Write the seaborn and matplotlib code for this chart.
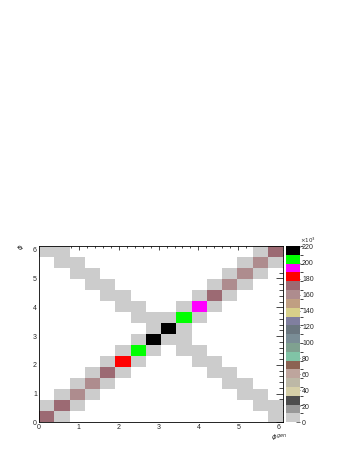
import numpy as np
import pandas as pd
import matplotlib
matplotlib.use('Agg')
import matplotlib.pyplot as plt
from matplotlib.colors import ListedColormap, BoundaryNorm
import seaborn as sns

#DATA (counts in units of 10^3)
####################################################################################################

n_bins = 16
phi_max = 6.13

#diagonal peak cells (i, i)
diag_vals = [170, 169, 160, 159, 171, 182, 204, 215, 216, 203, 193, 169, 160, 159, 158, 170]
#cells just above / below the diagonal in each column
above_vals = [6, 6, 5, 5, 6, 6, 7, 7, 7, 7, 6, 6, 5, 5, 5, 0]
below_vals = [0, 5, 5, 5, 6, 6, 7, 7, 7, 7, 6, 6, 5, 5, 5, 6]
#anti-diagonal band, two cells per column (rows 15-j and 16-j)
anti_low_vals = [4, 4, 4, 4, 4, 4, 4, 4, 4, 4, 4, 4, 4, 4, 4, 4]
anti_high_vals = [0, 4, 4, 4, 4, 4, 4, 4, 4, 4, 4, 4, 4, 4, 4, 4]

#palette levels, bottom to top
palette = ['#cccccc', '#999999', '#4d4d4d', '#d6cfa8', '#bdb8a6', '#bea59d', '#8c6353',
           '#80c4a6', '#7fa190', '#7a8d96', '#6b7780', '#807f9f', '#d8d08a', '#c09f82',
           '#ae8c8e', '#9c6a73', '#ff0000', '#ff00ff', '#00ff00', '#000000']
z_max = 221
cbar_ticks = [0, 20, 40, 60, 80, 100, 120, 140, 160, 180, 200, 220]

#BUILD MATRIX
####################################################################################################

mat = np.zeros((n_bins, n_bins))
for j in range(n_bins):
    if 15 - j >= 0:
        mat[15 - j, j] = anti_low_vals[j]
    if 16 - j <= 15:
        mat[16 - j, j] = anti_high_vals[j]
    if j + 1 < n_bins and above_vals[j] > 0:
        mat[j + 1, j] = above_vals[j]
    if j - 1 >= 0 and below_vals[j] > 0:
        mat[j - 1, j] = below_vals[j]
    mat[j, j] = diag_vals[j]

df = pd.DataFrame(mat * 1000)
mask = df == 0

#PLOT
####################################################################################################

sns.set_style('white')
plt.rcParams['font.family'] = ['Liberation Sans', 'DejaVu Sans']

fig = plt.figure(figsize=(3.54, 4.58), dpi=100)
ax = fig.add_axes([39/354, 1 - 422.3/458, (283.3 - 39)/354, (422.3 - 246)/458])
cax = fig.add_axes([285.7/354, 1 - 422.3/458, 14.3/354, (422.3 - 246)/458])

cmap = ListedColormap(palette)
norm = BoundaryNorm(np.linspace(0, z_max * 1000, len(palette) + 1), len(palette))

sns.heatmap(df, mask=mask, cmap=cmap, norm=norm, ax=ax, cbar_ax=cax,
            cbar_kws={'ticks': [t * 1000 for t in cbar_ticks]},
            xticklabels=False, yticklabels=False)
ax.invert_yaxis()
for s in ax.spines.values():
    s.set_visible(True)
    s.set_color('black')
    s.set_linewidth(0.6)

bw = phi_max / n_bins
ax.set_xticks(np.arange(0, 7) / bw)
ax.set_xticklabels([str(i) for i in range(7)])
ax.set_yticks(np.arange(0, 7) / bw)
ax.set_yticklabels([str(i) for i in range(7)])
ax.set_xticks(np.arange(0, phi_max, 0.2) / bw, minor=True)
ax.set_yticks(np.arange(0, phi_max, 0.2) / bw, minor=True)
ax.tick_params(axis='both', which='both', direction='in', top=True, right=True,
               labelsize=5, width=0.5, color='black', pad=1.5)
ax.tick_params(axis='x', which='major', length=3.2)
ax.tick_params(axis='x', which='minor', length=1.7)
ax.tick_params(axis='y', which='major', length=5.2)
ax.tick_params(axis='y', which='minor', length=2.6)
for lab in ax.get_yticklabels():
    lab.set_rotation(0)

cbar = ax.collections[0].colorbar
cbar.outline.set_visible(False)
cbar.ax.set_yticklabels([str(t) for t in cbar_ticks])
cbar.ax.tick_params(direction='in', length=3, width=0.5, labelsize=5, pad=1.5, color='#333333')
fig.text(300/354, 1 - 240/458, r'$\times10^{3}$', fontsize=4, ha='left', va='center')

fig.text(287/354, 1 - 438/458, r'$\phi^{gen}$', fontsize=5, ha='right', va='center')
fig.text(21/354, 1 - 247/458, r'$\phi$', fontsize=5, ha='center', va='center', rotation=90)

fig.savefig('out.png', dpi=100)
